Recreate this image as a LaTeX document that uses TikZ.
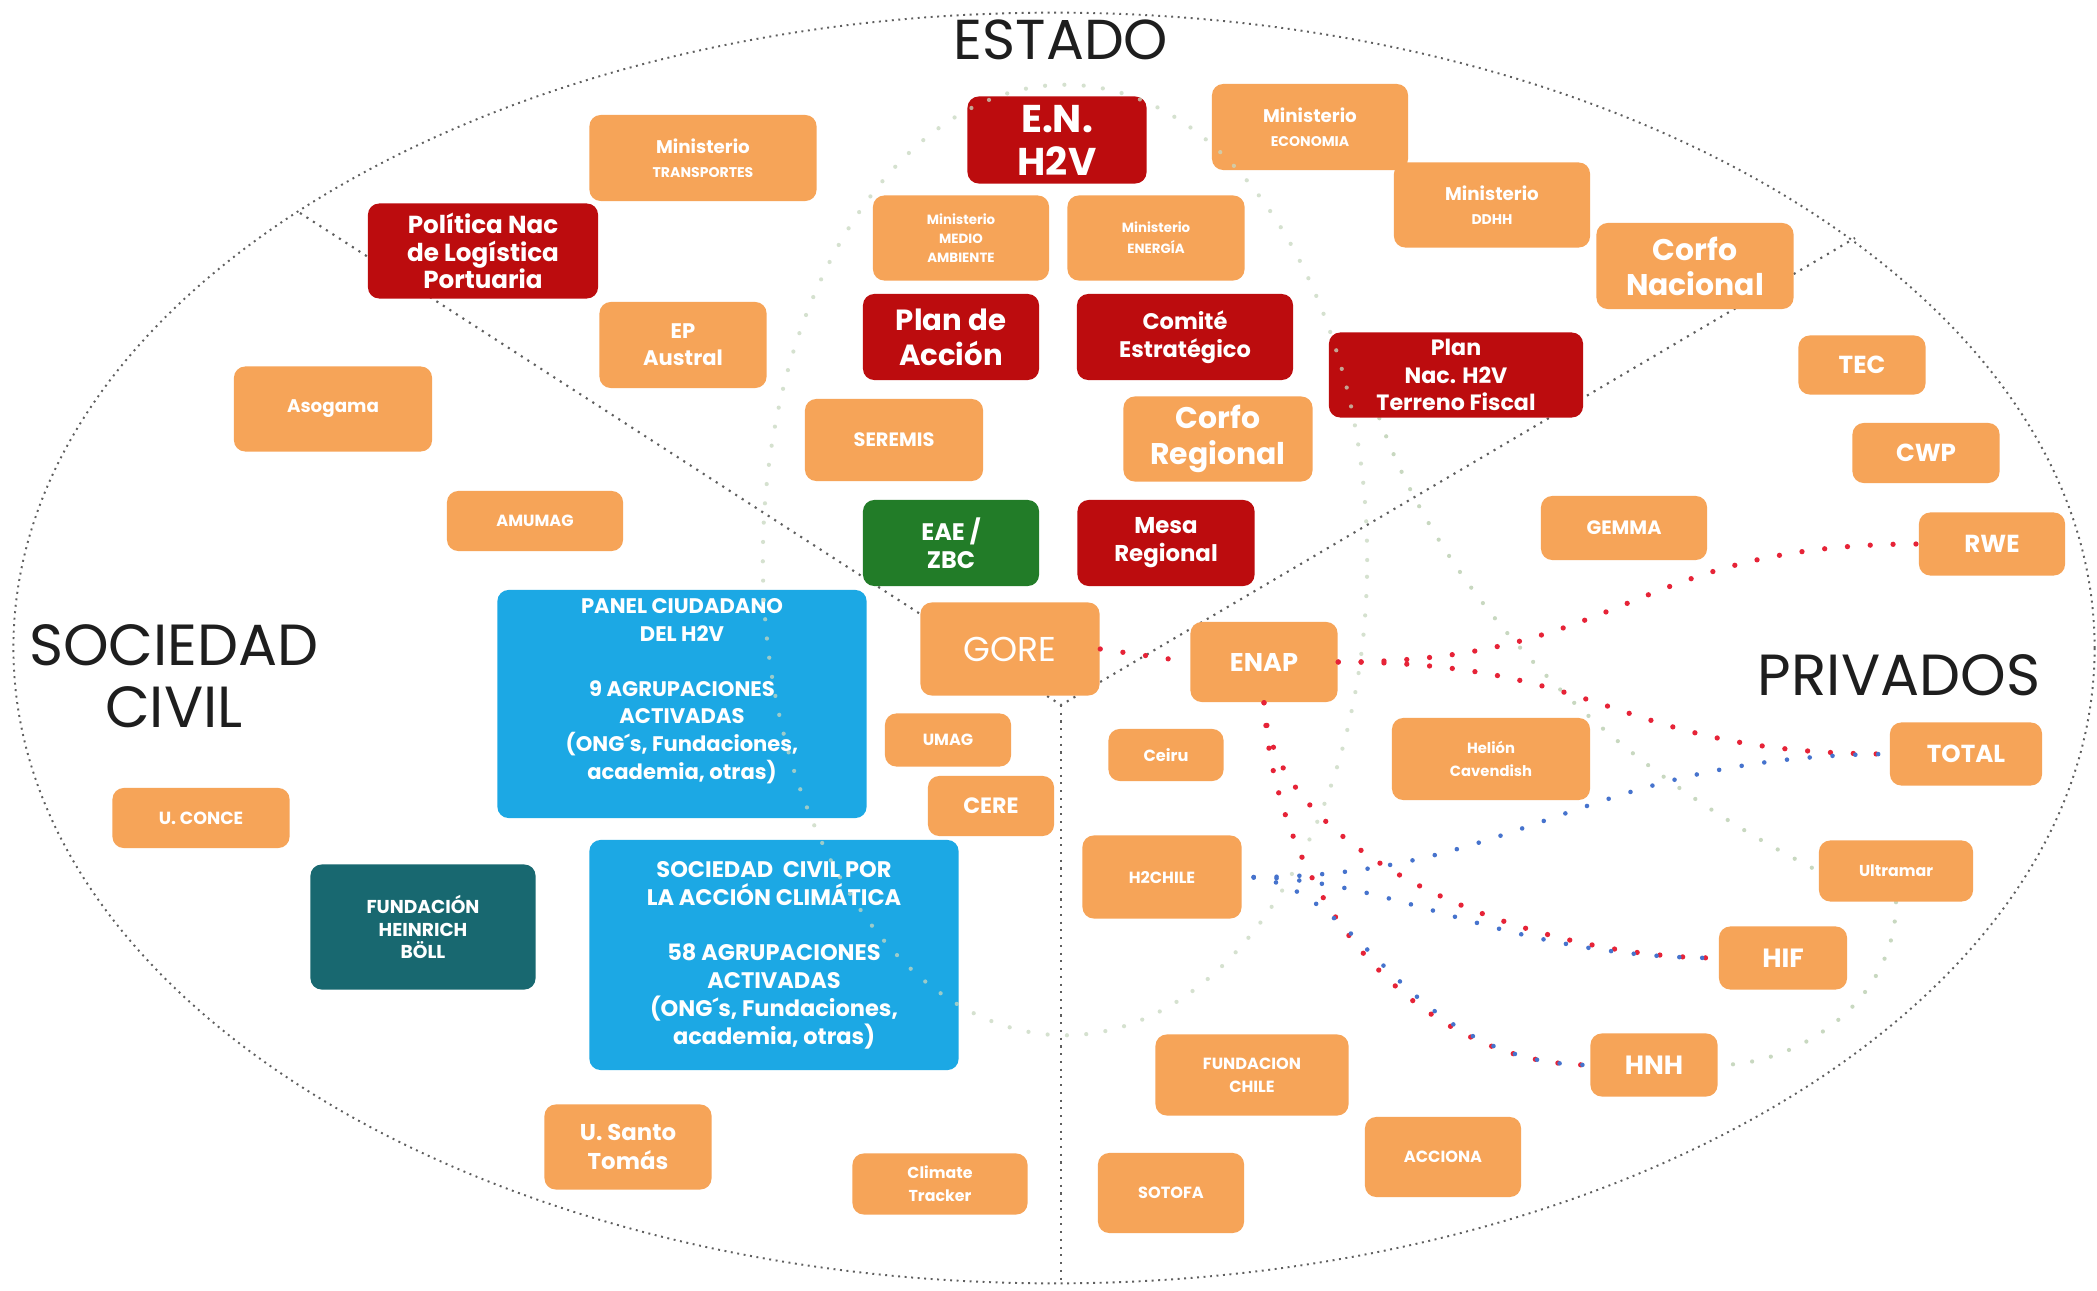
\documentclass[tikz,border=0pt]{standalone}
\usepackage{fontspec}
\setmainfont{Poppins}
\usetikzlibrary{calc}
\pgfdeclarelayer{bg}
\pgfsetlayers{bg,main}
\definecolor{orng}{RGB}{246,164,88}
\definecolor{dred}{RGB}{188,12,14}
\definecolor{dgrn}{RGB}{34,124,40}
\definecolor{tealbox}{RGB}{24,104,112}
\definecolor{bluebox}{RGB}{28,168,228}
\definecolor{reddotc}{RGB}{230,35,55}
\definecolor{bluedotc}{RGB}{70,115,205}
\definecolor{ringgray}{RGB}{95,95,95}
\definecolor{lightdot}{RGB}{200,216,192}
\definecolor{titlec}{RGB}{30,30,30}
\newcommand\fsz[2]{\fontsize{#1}{#2}\selectfont}
\newcommand\bx[8]{\node[box,fill=#6,minimum width=#4*0.1mm,minimum height=#5*0.1mm,font={#7}] (#1) at (#2,#3) {#8};}
\begin{document}
\begin{tikzpicture}[x=0.01cm,y=-0.01cm,
  box/.style={rounded corners=3.2pt,inner sep=0pt,align=center,text=white},
  ring/.style={draw=ringgray,line width=0.55pt,dash pattern=on 0.55pt off 1.3pt},
  ringv/.style={draw=ringgray,line width=0.6pt,dash pattern=on 0.6pt off 1.6pt},
  lightline/.style={draw=lightdot,line width=1.2pt,line cap=round,dash pattern=on 0pt off 5.5pt},
  reddots/.style={draw=reddotc,line width=1.5pt,line cap=round,dash pattern=on 0pt off 6.5pt},
  bluedots/.style={draw=bluedotc,line width=1.3pt,line cap=round,dash pattern=on 0pt off 6.5pt,dash phase=3.25pt},
  titletext/.style={text=titlec,inner sep=0pt,align=center}]
\useasboundingbox (0,0) rectangle (2097,1291);
\begin{pgfonlayer}{bg}
\fill[white] (0,0) rectangle (2097,1291);
\draw[ring] (1054,648) ellipse [x radius=10.4cm, y radius=6.35cm];
\coordinate (apex) at (1061,705);
\coordinate (vl) at (300,213);
\coordinate (vr) at (1855,238);
\coordinate (vb) at (1061,1283);
\draw[ringv] (vl) -- (apex) -- (vr);
\draw[ringv] (apex) -- (vb);
\end{pgfonlayer}

% titles
\node[titletext,font=\fsz{16}{18}] (estado) at (1061,40) {ESTADO};
\node[titletext,font=\fsz{16.5}{17.5}] (sociedad) at (174,676) {SOCIEDAD\\CIVIL};
\node[titletext,font=\fsz{16.5}{18}] (privados) at (1899,675) {PRIVADOS};

% boxes
\bx{enh2v}{1057}{140}{179}{87}{dred}{\fsz{11}{12.2}\bfseries}{E.N.\\H2V}
\bx{mecon}{1310}{127}{196}{86}{orng}{\fsz{5.2}{6.8}\bfseries}{Ministerio\\{\fsz{4}{4}ECONOMIA}}
\bx{mtrans}{703}{158}{227}{86}{orng}{\fsz{5.2}{6.8}\bfseries}{Ministerio\\{\fsz{4}{4}TRANSPORTES}}
\bx{pnlp}{483}{251}{230}{95}{dred}{\fsz{7}{7.8}\bfseries}{Política Nac\\de Logística\\Portuaria}
\bx{mma}{961}{238}{176}{85}{orng}{\fsz{3.8}{5.5}\bfseries}{Ministerio\\MEDIO\\AMBIENTE}
\bx{mene}{1156}{238}{177}{85}{orng}{\fsz{3.8}{6}\bfseries}{Ministerio\\ENERGÍA}
\bx{mddhh}{1492}{205}{196}{85}{orng}{\fsz{5.2}{6.8}\bfseries}{Ministerio\\{\fsz{4}{4}DDHH}}
\bx{corfon}{1695}{266}{197}{86}{orng}{\fsz{8.5}{9.9}\bfseries}{Corfo\\Nacional}
\bx{pacc}{951}{337}{176}{86}{dred}{\fsz{8.3}{9.9}\bfseries}{Plan de\\Acción}
\bx{comite}{1185}{337}{216}{86}{dred}{\fsz{6.4}{8}\bfseries}{Comité\\Estratégico}
\bx{epa}{683}{345}{167}{86}{orng}{\fsz{6}{7.6}\bfseries}{EP\\Austral}
\bx{pnac}{1456}{375}{254}{85}{dred}{\fsz{6.3}{7.8}\bfseries}{Plan\\Nac. H2V\\Terreno Fiscal}
\bx{tec}{1862}{365}{127}{59}{orng}{\fsz{7}{8}\bfseries}{TEC}
\bx{asog}{333}{409}{198}{85}{orng}{\fsz{5.2}{6}\bfseries}{Asogama}
\bx{seremis}{894}{440}{178}{82}{orng}{\fsz{5.5}{6}\bfseries}{SEREMIS}
\bx{corfor}{1218}{439}{189}{85}{orng}{\fsz{8.5}{10.3}\bfseries}{Corfo\\Regional}
\bx{cwp}{1926}{453}{147}{60}{orng}{\fsz{7}{8}\bfseries}{CWP}
\bx{amumag}{535}{521}{176}{60}{orng}{\fsz{4.6}{5}\bfseries}{AMUMAG}
\bx{gemma}{1624}{528}{166}{64}{orng}{\fsz{5.5}{6}\bfseries}{GEMMA}
\bx{rwe}{1992}{544}{146}{63}{orng}{\fsz{7}{8}\bfseries}{RWE}
\bx{eae}{951}{543}{176}{86}{dgrn}{\fsz{6.8}{8}\bfseries}{EAE /\\ZBC}
\bx{mesa}{1166}{543}{177}{86}{dred}{\fsz{6.5}{8}\bfseries}{Mesa\\Regional}
\bx{panel}{682}{704}{369}{228}{bluebox}{\fsz{6}{7.8}\bfseries}{}
\node[text=white,align=center,inner sep=0pt,font=\fsz{6}{7.85}\bfseries] (panelt) at (682,691)
  {PANEL CIUDADANO\\DEL H2V\\[7.85pt]9 AGRUPACIONES\\ACTIVADAS\\(ONG´s, Fundaciones,\\academia, otras)};
\bx{gore}{1010}{649}{179}{93}{orng}{\fsz{9.8}{10}}{GORE}
\bx{enap}{1264}{662}{147}{80}{orng}{\fsz{7.3}{8}\bfseries}{ENAP}
\bx{total}{1966}{754}{152}{63}{orng}{\fsz{7}{8}\bfseries}{TOTAL}
\bx{umag}{948}{740}{126}{53}{orng}{\fsz{4.6}{5}\bfseries}{UMAG}
\bx{ceiru}{1166}{755}{115}{52}{orng}{\fsz{4.6}{5}\bfseries}{Ceiru}
\bx{caven}{1491}{759}{198}{82}{orng}{\fsz{4.2}{6.5}\bfseries}{Helión\\Cavendish}
\bx{cere}{991}{806}{126}{60}{orng}{\fsz{6.3}{7}\bfseries}{CERE}
\bx{uconce}{201}{818}{177}{60}{orng}{\fsz{5}{6}\bfseries}{U. CONCE}
\bx{ultra}{1896}{871}{154}{61}{orng}{\fsz{4.5}{5}\bfseries}{Ultramar}
\bx{h2chile}{1162}{877}{159}{83}{orng}{\fsz{4.6}{5}\bfseries}{H2CHILE}
\bx{boll}{423}{927}{225}{125}{tealbox}{\fsz{5.3}{6.5}\bfseries}{FUNDACIÓN\\HEINRICH\\BÖLL}
\bx{socciv}{774}{955}{369}{230}{bluebox}{\fsz{6.4}{7.9}\bfseries}{SOCIEDAD\ \ CIVIL POR\\LA ACCIÓN CLIMÁTICA\\[7.9pt]58 AGRUPACIONES\\ACTIVADAS\\(ONG´s, Fundaciones,\\academia, otras)}
\bx{hif}{1783}{958}{128}{63}{orng}{\fsz{7.5}{8}\bfseries}{HIF}
\bx{fchile}{1252}{1075}{193}{81}{orng}{\fsz{4.6}{6.5}\bfseries}{FUNDACION\\CHILE}
\bx{hnh}{1654}{1065}{127}{63}{orng}{\fsz{7.5}{8}\bfseries}{HNH}
\bx{ust}{628}{1147}{167}{85}{orng}{\fsz{6.5}{8}\bfseries}{U. Santo\\Tomás}
\bx{acciona}{1443}{1157}{156}{80}{orng}{\fsz{4.6}{5}\bfseries}{ACCIONA}
\bx{ctrack}{940}{1184}{175}{61}{orng}{\fsz{4.5}{6.5}\bfseries}{Climate\\Tracker}
\bx{sotofa}{1171}{1193}{146}{80}{orng}{\fsz{4.6}{5}\bfseries}{SOTOFA}

% faint connectors behind boxes
\begin{pgfonlayer}{bg}
\draw[lightline] ($(pnac.south west)!0.2!(pnac.south east)$) .. controls (1430,560) and (1560,740) .. (ultra.west);
\draw[lightline] (ultra.south) .. controls (1896,1000) and (1800,1065) .. (hnh.east);
\end{pgfonlayer}

% faint central ring
\draw[lightline,opacity=0.75] (1065,560) ellipse [x radius=3.02cm, y radius=4.75cm];

% red links from GORE / ENAP
\draw[reddots] (gore.east) -- (enap.west);
\draw[reddots] (enap.east) .. controls (1628,662) and (1628,544) .. (rwe.west);
\draw[reddots] (enap.east) .. controls (1613,662) and (1613,754) .. (total.west);
\draw[reddots] (enap.south) .. controls (1270,850) and (1520,958) .. (hif.west);
\draw[reddots] (enap.south) .. controls (1275,900) and (1420,1065) .. (hnh.west);
% blue links from H2CHILE
\draw[bluedots] (h2chile.east) .. controls (1520,880) and (1580,756) .. (total.west);
\draw[bluedots] (h2chile.east) .. controls (1400,877) and (1500,958) .. (hif.west);
\draw[bluedots] (h2chile.east) .. controls (1360,877) and (1400,1065) .. (hnh.west);
\end{tikzpicture}
\end{document}
